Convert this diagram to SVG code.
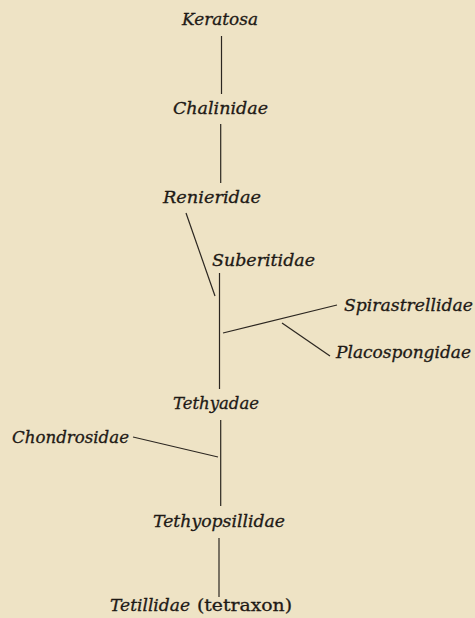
<svg xmlns="http://www.w3.org/2000/svg" width="475" height="618" viewBox="0 0 475 618">
<style>
.bg{fill:#eee3c5}
.t{font-family:"DejaVu Serif","Liberation Serif",serif;font-style:italic;font-size:16px;fill:#1e1a16;stroke:#1e1a16;stroke-width:0.3}
.r{font-family:"DejaVu Serif","Liberation Serif",serif;font-style:normal;font-size:16px;fill:#1e1a16;stroke:#1e1a16;stroke-width:0.3}
.c line{stroke:#2b2620;stroke-width:1.2;fill:none}
</style>
<rect class="bg" x="0" y="0" width="475" height="618"/>
<g id="connectors" class="c">
<line x1="221.5" y1="36" x2="221.5" y2="94"/>
<line x1="220.7" y1="124" x2="220.7" y2="183"/>
<line x1="186" y1="213" x2="215" y2="296"/>
<line x1="219.5" y1="273" x2="219.5" y2="389"/>
<line x1="223" y1="333" x2="337" y2="305"/>
<line x1="282" y1="323" x2="330" y2="356"/>
<line x1="220.7" y1="420" x2="220.7" y2="506"/>
<line x1="133" y1="437" x2="218" y2="457"/>
<line x1="219" y1="538" x2="219" y2="597"/>
</g>
<g id="keratosa"><text class="t" x="182" y="25" textLength="76" lengthAdjust="spacingAndGlyphs">Keratosa</text></g>
<g id="chalinidae"><text class="t" x="173" y="114" textLength="95" lengthAdjust="spacingAndGlyphs">Chalinidae</text></g>
<g id="renieridae"><text class="t" x="163" y="203" textLength="98" lengthAdjust="spacingAndGlyphs">Renieridae</text></g>
<g id="suberitidae"><text class="t" x="212" y="266" textLength="103" lengthAdjust="spacingAndGlyphs">Suberitidae</text></g>
<g id="spirastrellidae"><text class="t" x="344" y="311" textLength="129" lengthAdjust="spacingAndGlyphs">Spirastrellidae</text></g>
<g id="placospongidae"><text class="t" x="336" y="358" textLength="135" lengthAdjust="spacingAndGlyphs">Placospongidae</text></g>
<g id="tethyadae"><text class="t" x="173" y="409" textLength="86" lengthAdjust="spacingAndGlyphs">Tethyadae</text></g>
<g id="chondrosidae"><text class="t" x="12" y="443" textLength="117" lengthAdjust="spacingAndGlyphs">Chondrosidae</text></g>
<g id="tethyopsillidae"><text class="t" x="153" y="527" textLength="132" lengthAdjust="spacingAndGlyphs">Tethyopsillidae</text></g>
<g id="tetillidae"><text x="110" y="611"><tspan class="t" textLength="80" lengthAdjust="spacingAndGlyphs">Tetillidae</tspan><tspan class="r" x="197" textLength="95" lengthAdjust="spacingAndGlyphs">(tetraxon)</tspan></text></g>
</svg>
